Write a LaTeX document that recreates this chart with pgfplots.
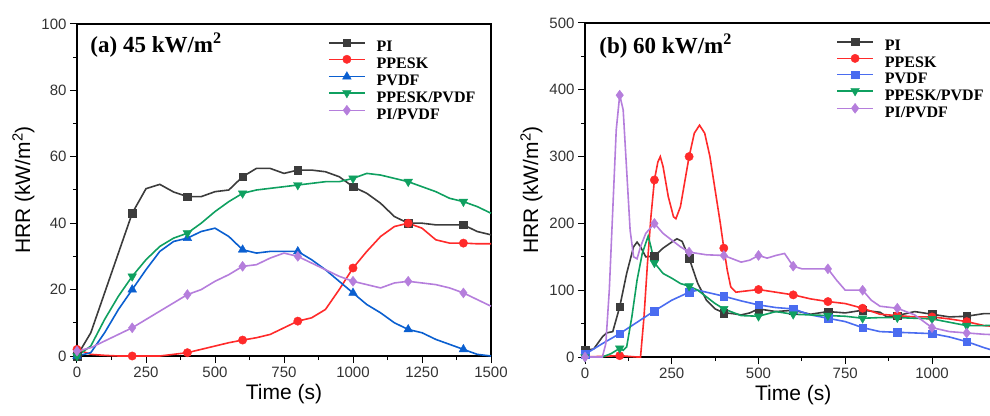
\documentclass[border=0pt]{standalone}
\usepackage{fontspec}
\setmainfont{Liberation Serif}
\setsansfont{Liberation Sans}
\usepackage{pgfplots}
\usepackage{pgfplotstable}
\pgfplotsset{compat=1.18}

\definecolor{cPI}{HTML}{3C3C3C}
\definecolor{cPPESK}{HTML}{FF2A2A}
\definecolor{cPVDFa}{HTML}{0A5FD0}
\definecolor{cPVDFb}{HTML}{4A6CF0}
\definecolor{cMIXa}{HTML}{0FA060}
\definecolor{cMIXb}{HTML}{B57EDC}

% panel (a), 45 kW/m2, every 50 s
\pgfplotstableread{
t    pi    ppesk  pvdf  ppeskpvdf  pipvdf
0    0     2      0     0          1.5
50   7     0.5    1     3          2.5
100  19    0.2    7     11         4.5
150  31    0      14    18         6.5
200  43    0      20    24         8.5
250  50.4  0      26    29         11
300  51.7  0      31.5  33         13.5
350  49.4  0.5    34.5  35.5       16
400  48    1      35.5  37         18.5
450  48    2      37.5  40         20
500  49.5  3      38.5  43.5       22.5
550  50    4      36    46.5       24.5
600  54    4.8    32    49         27
650  56.5  5.5    31    50         27.5
700  56.5  6.5    31.5  50.5       29.5
750  55    8.5    31.5  51         31
800  56    10.5   31.5  51.5       30
850  56    11.5   29    52         28
900  55.5  14     26    52.5       26
950  54    20     22.5  52.5       24
1000 51    26.5   19    53.5       22.5
1050 49    31.5   15.5  55         21.5
1100 46    36     13    54.5       20.5
1150 42    39     10    53.5       22
1200 40    40     8     52.5       22.5
1250 40    38.5   7     51         22
1300 39.5  35     5     49.5       21.5
1350 39.5  34     3.5   47.5       20.5
1400 39.5  34     2     46.5       19
1450 37.5  33.8   0.5   45         17
1500 36.5  33.8   0     43         15
}\tabA

\pgfplotsset{
  hrr/.style={
    scale only axis, clip=false,
    axis line style={line width=1.3pt},
    tick style={line width=1pt, black},
    tick align=outside, tick pos=left,
    major tick length=7pt, minor tick length=4pt,
    minor x tick num=1, minor y tick num=1,
    ticklabel style={font=\sffamily\fontsize{15}{15}\selectfont, color=black!80},
    /pgf/number format/assume math mode=true,
    /pgf/number format/1000 sep={},
    label style={font=\sffamily\fontsize{21}{21}\selectfont},
    xlabel={Time (s)}, ylabel={HRR (kW/m\textsuperscript{2})},
    legend cell align=left,
    legend style={draw=none, fill=none, inner sep=0pt, row sep=0pt,
      font=\rmfamily\bfseries\fontsize{16}{16}\selectfont,
      nodes={inner sep=2pt, text height=11pt, text depth=1.3pt}},
    legend image code/.code={
      \draw[##1, mark repeat=2, mark phase=2] plot coordinates {(0pt,0.42em) (18pt,0.42em) (36pt,0.42em)};
      \path (45pt,0pt);},
    every axis plot/.append style={line width=1.6pt},
  },
  mk/.style={mark options={solid, line width=0.4pt}},
}

\begin{document}
\begin{tikzpicture}
\useasboundingbox (0,0) rectangle (990pt,415pt);
\clip (0,0) rectangle (990pt,415pt);

\begin{axis}[hrr, at={(77pt,59pt)}, anchor=south west,
  width=414pt, height=332pt,
  xmin=0, xmax=1500, ymin=0, ymax=100,
  xtick={0,250,...,1500}, ytick={0,20,...,100},
  legend style={at={(0.606,0.956)}, anchor=north west},
  mark repeat=4, mark phase=1]
\addplot[cPI, mark=square*, mark size=3.8pt, mk] table[x=t, y=pi] {\tabA};
\addplot[cPPESK, mark=*, mark size=4.2pt, mk] table[x=t, y=ppesk] {\tabA};
\addplot[cPVDFa, mark=triangle*, mark size=5pt, mk] table[x=t, y=pvdf] {\tabA};
\addplot[cMIXa, mark=triangle*, mark size=5pt, mark options={solid, line width=0.4pt, rotate=180}] table[x=t, y=ppeskpvdf] {\tabA};
\addplot[cMIXb, mark=diamond*, mark size=5pt, mk] table[x=t, y=pipvdf] {\tabA};
\legend{PI, PPESK, PVDF, PPESK/PVDF, PI/PVDF}
\node[anchor=base west, font=\rmfamily\bfseries\fontsize{23}{23}\selectfont]
  at (rel axis cs:0.024,0.913) {(a) 45 kW/m\textsuperscript{2}};
\end{axis}

\begin{axis}[hrr, at={(585pt,58pt)}, anchor=south west,
  width=416.4pt, height=334pt,
  xmin=0, xmax=1200, ymin=0, ymax=500,
  xtick={0,250,...,1000}, ytick={0,100,...,500},
  legend style={at={(0.603,0.956)}, anchor=north west}]
% lines
\addplot[cPI, forget plot] coordinates {(0,10)(25,12)(50,30)(62,36)(80,38)(100,75)(120,125)(140,165)(150,172)(160,165)(175,150)(200,151)(225,163)(250,172)(265,177)(280,173)(300,148)(325,110)(350,85)(375,72)(400,66)(425,65)(450,63)(475,66)(500,72)(550,68)(600,70)(650,64)(700,68)(750,66)(800,70)(850,67)(870,60)(900,62)(950,68)(1000,64)(1050,60)(1100,61)(1150,65)(1200,65)};
\addplot[cPPESK, forget plot] coordinates {(0,0)(100,2)(150,0)(160,0)(170,60)(180,140)(190,210)(200,265)(210,292)(217,300)(225,285)(240,240)(255,210)(262,207)(275,225)(290,270)(300,300)(315,335)(330,347)(345,335)(360,300)(375,250)(390,200)(400,163)(410,130)(420,105)(435,97)(450,98)(500,101)(550,97)(600,93)(650,87)(700,83)(750,80)(800,73)(850,64)(900,62)(950,60)(1000,60)(1050,57)(1100,53)(1150,47)(1200,45)};
\addplot[cPVDFb, forget plot] coordinates {(0,4)(50,20)(100,35)(150,52)(200,69)(250,85)(300,97)(325,100)(350,97)(400,91)(450,84)(500,78)(550,74)(600,72)(650,63)(700,58)(750,53)(800,44)(850,38)(900,37)(950,36)(1000,35)(1050,30)(1100,23)(1150,14)(1200,6)};
\addplot[cMIXa, forget plot] coordinates {(0,0)(50,0)(75,5)(100,13)(110,10)(120,15)(135,60)(150,115)(165,155)(182,181)(190,165)(200,141)(225,125)(250,118)(275,110)(300,106)(325,100)(350,90)(375,80)(400,72)(450,62)(500,61)(550,68)(600,64)(650,63)(700,62)(750,61)(800,58)(850,59)(900,59)(950,58)(1000,57)(1050,52)(1100,47)(1150,47)(1200,48)};
\addplot[cMIXb, forget plot] coordinates {(0,0)(50,0)(60,20)(70,100)(80,220)(90,340)(100,392)(110,370)(120,280)(130,190)(140,150)(150,147)(160,165)(175,185)(200,200)(225,185)(250,175)(275,165)(300,157)(350,153)(400,152)(450,142)(475,145)(500,152)(525,148)(550,152)(575,155)(600,136)(625,132)(650,132)(700,132)(725,115)(750,100)(775,100)(800,100)(825,85)(850,76)(900,73)(950,63)(1000,44)(1050,38)(1100,36)(1150,34)(1200,33)};
% markers every 100 s
\addplot[cPI, only marks, mark=square*, mark size=3.8pt, mk, forget plot] coordinates {(0,10)(100,75)(200,151)(300,148)(400,66)(500,72)(600,70)(700,68)(800,70)(900,62)(1000,64)(1100,61)};
\addplot[cPPESK, only marks, mark=*, mark size=4.2pt, mk, forget plot] coordinates {(100,2)(200,265)(300,300)(400,163)(500,101)(600,93)(700,83)(800,73)(900,62)(1000,60)(1100,53)};
\addplot[cPVDFb, only marks, mark=square*, mark size=3.8pt, mk, forget plot] coordinates {(0,4)(100,35)(200,69)(300,97)(400,91)(500,78)(600,72)(700,58)(800,44)(900,37)(1000,35)(1100,23)};
\addplot[cMIXa, only marks, mark=triangle*, mark size=5pt, mark options={solid, line width=0.4pt, rotate=180}, forget plot] coordinates {(0,0)(100,13)(200,141)(300,106)(400,72)(500,61)(600,64)(700,62)(800,58)(900,59)(1000,57)(1100,47)};
\addplot[cMIXb, only marks, mark=diamond*, mark size=5pt, mk, forget plot] coordinates {(0,0)(100,392)(200,200)(300,157)(400,152)(500,152)(600,136)(700,132)(800,100)(900,73)(1000,44)(1100,36)};
\addlegendimage{cPI, mark=square*, mark size=3.8pt, mk}
\addlegendentry{PI}
\addlegendimage{cPPESK, mark=*, mark size=4.2pt, mk}
\addlegendentry{PPESK}
\addlegendimage{cPVDFb, mark=square*, mark size=3.8pt, mk}
\addlegendentry{PVDF}
\addlegendimage{cMIXa, mark=triangle*, mark size=5pt, mark options={solid, line width=0.4pt, rotate=180}}
\addlegendentry{PPESK/PVDF}
\addlegendimage{cMIXb, mark=diamond*, mark size=5pt, mk}
\addlegendentry{PI/PVDF}
\node[anchor=base west, font=\rmfamily\bfseries\fontsize{23}{23}\selectfont]
  at (rel axis cs:0.026,0.91) {(b) 60 kW/m\textsuperscript{2}};
\end{axis}
\end{tikzpicture}
\end{document}
